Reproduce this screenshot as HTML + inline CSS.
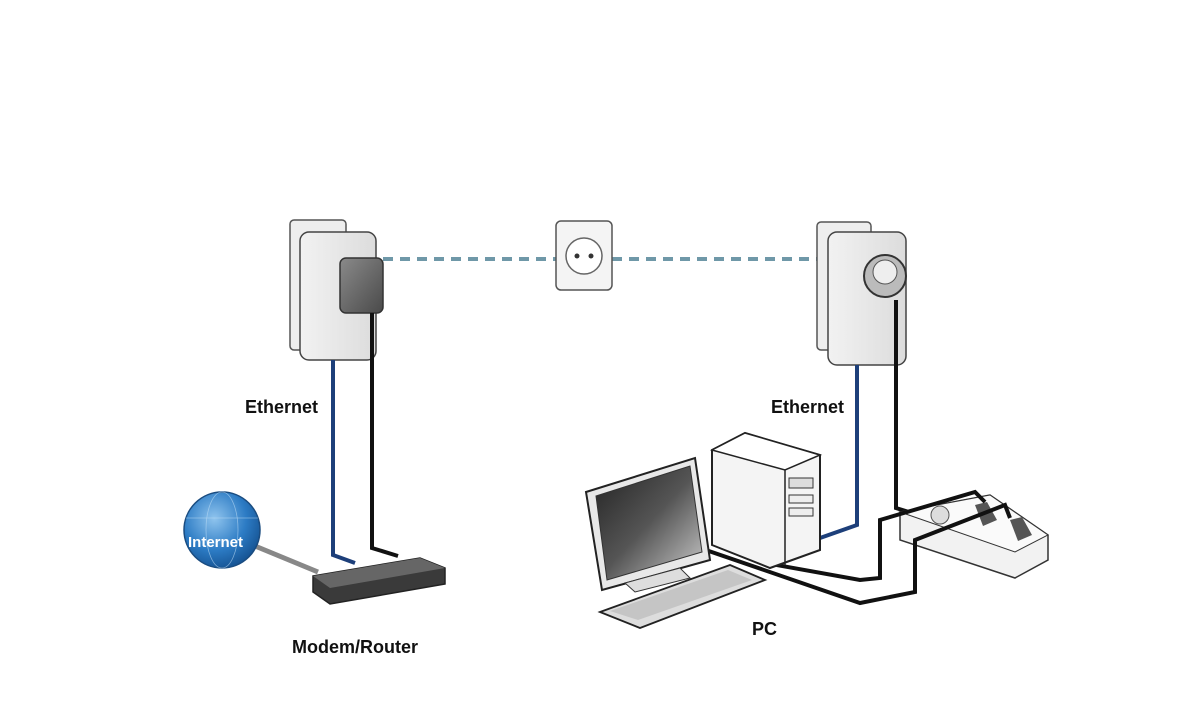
<!DOCTYPE html>
<html><head><style>body{margin:0;background:#fff}svg{display:block}text{font-family:"Liberation Sans",sans-serif;font-weight:bold;fill:#111}</style></head>
<body>
<svg width="1194" height="708" viewBox="0 0 1194 708">
<defs>
<linearGradient id="body" x1="0" x2="1"><stop offset="0" stop-color="#f2f2f2"/><stop offset="1" stop-color="#dcdcdc"/></linearGradient>
<linearGradient id="plug" x1="0" y1="0" x2="1" y2="1"><stop offset="0" stop-color="#8a8a8a"/><stop offset="1" stop-color="#4a4a4a"/></linearGradient>
<radialGradient id="globe" cx="0.4" cy="0.35" r="0.7"><stop offset="0" stop-color="#8fc4ee"/><stop offset="0.6" stop-color="#2c7bc4"/><stop offset="1" stop-color="#14508f"/></radialGradient>
<linearGradient id="scr" x1="0" y1="0" x2="1" y2="1"><stop offset="0" stop-color="#222"/><stop offset="0.5" stop-color="#555"/><stop offset="1" stop-color="#ccc"/></linearGradient>
</defs>
<!-- dashed powerline -->
<line x1="383" y1="259" x2="556" y2="259" stroke="#6f98a8" stroke-width="4" stroke-dasharray="10,7"/>
<line x1="612" y1="259" x2="818" y2="259" stroke="#6f98a8" stroke-width="4" stroke-dasharray="10,7"/>
<!-- wall socket -->
<rect x="556" y="221" width="56" height="69" rx="5" fill="#f4f4f4" stroke="#555" stroke-width="1.5"/>
<circle cx="584" cy="256" r="18" fill="#fff" stroke="#666" stroke-width="1.5"/>
<circle cx="577" cy="256" r="2.5" fill="#333"/><circle cx="591" cy="256" r="2.5" fill="#333"/>
<!-- left adapter -->
<rect x="290" y="220" width="56" height="130" rx="4" fill="#eee" stroke="#555" stroke-width="1.5"/>
<rect x="300" y="232" width="76" height="128" rx="9" fill="url(#body)" stroke="#444" stroke-width="1.5"/>
<rect x="340" y="258" width="43" height="55" rx="6" fill="url(#plug)" stroke="#333" stroke-width="1.5"/>
<!-- left cables -->
<polyline points="333,360 333,555 355,563" fill="none" stroke="#1d3f7a" stroke-width="4"/>
<polyline points="372,313 372,548 398,556" fill="none" stroke="#111" stroke-width="4"/>
<line x1="255" y1="546" x2="318" y2="572" stroke="#888" stroke-width="5"/>
<!-- router -->
<polygon points="313,576 420,558 445,568 445,584 330,604 313,592" fill="#3a3a3a" stroke="#222" stroke-width="1.5"/>
<polygon points="313,576 420,558 445,568 330,588" fill="#666"/>
<!-- globe -->
<circle cx="222" cy="530" r="38" fill="url(#globe)" stroke="#1a4c80" stroke-width="1.5"/>
<ellipse cx="222" cy="530" rx="16" ry="38" fill="none" stroke="#bcdcf5" stroke-width="0.8" opacity="0.6"/>
<line x1="186" y1="518" x2="258" y2="518" stroke="#bcdcf5" stroke-width="0.8" opacity="0.6"/>
<text x="188" y="547" font-size="15" style="fill:#fff">Internet</text>
<!-- right adapter -->
<rect x="817" y="222" width="54" height="128" rx="4" fill="#eee" stroke="#555" stroke-width="1.5"/>
<rect x="828" y="232" width="78" height="133" rx="9" fill="url(#body)" stroke="#444" stroke-width="1.5"/>
<circle cx="885" cy="276" r="21" fill="#bbb" stroke="#333" stroke-width="2"/>
<circle cx="885" cy="272" r="12" fill="#eee" stroke="#555"/>
<!-- right cables -->
<polyline points="857,365 857,525 820,538" fill="none" stroke="#1d3f7a" stroke-width="4"/>
<polyline points="896,300 896,508 912,513" fill="none" stroke="#111" stroke-width="4"/>
<!-- power strip -->
<polygon points="900,512 990,495 1048,535 1048,560 1015,578 900,540" fill="#f2f2f2" stroke="#333" stroke-width="1.5"/>
<polygon points="900,512 990,495 1048,535 1015,552" fill="#fafafa" stroke="#333" stroke-width="1"/>
<circle cx="940" cy="515" r="9" fill="#ddd" stroke="#555"/>
<path d="M975 505 l12 -3 l10 18 l-14 6z" fill="#555"/>
<path d="M1010 520 l12 -3 l10 18 l-14 6z" fill="#555"/>
<polyline points="760,562 860,580 880,578 880,520 975,492 985,502" fill="none" stroke="#111" stroke-width="4"/>
<polyline points="700,548 860,603 915,592 915,540 1005,505 1010,518" fill="none" stroke="#111" stroke-width="4"/>
<!-- tower -->
<polygon points="712,450 745,433 820,455 820,550 770,568 712,545" fill="#f4f4f4" stroke="#222" stroke-width="2"/>
<polygon points="712,450 745,433 820,455 785,470" fill="#fff" stroke="#222" stroke-width="1.5"/>
<line x1="785" y1="470" x2="785" y2="565" stroke="#222" stroke-width="1.5"/>
<rect x="789" y="478" width="24" height="10" fill="#ddd" stroke="#333"/>
<rect x="789" y="495" width="24" height="8" fill="#eee" stroke="#333"/>
<rect x="789" y="508" width="24" height="8" fill="#eee" stroke="#333"/>
<!-- monitor -->
<polygon points="586,492 695,458 710,560 602,590" fill="#e8e8e8" stroke="#222" stroke-width="2"/>
<polygon points="596,496 690,466 702,552 607,580" fill="url(#scr)" stroke="#333"/>
<polygon points="625,583 680,568 690,578 635,592" fill="#ddd" stroke="#333"/>
<!-- keyboard -->
<polygon points="600,612 730,565 765,580 640,628" fill="#ddd" stroke="#222" stroke-width="1.8"/>
<polygon points="610,611 728,570 752,580 638,620" fill="#bbb" opacity="0.7"/>
<!-- labels -->
<text x="245" y="413" font-size="18">Ethernet</text>
<text x="771" y="413" font-size="18">Ethernet</text>
<text x="292" y="653" font-size="18">Modem/Router</text>
<text x="752" y="635" font-size="18">PC</text>
</svg>
</body></html>
